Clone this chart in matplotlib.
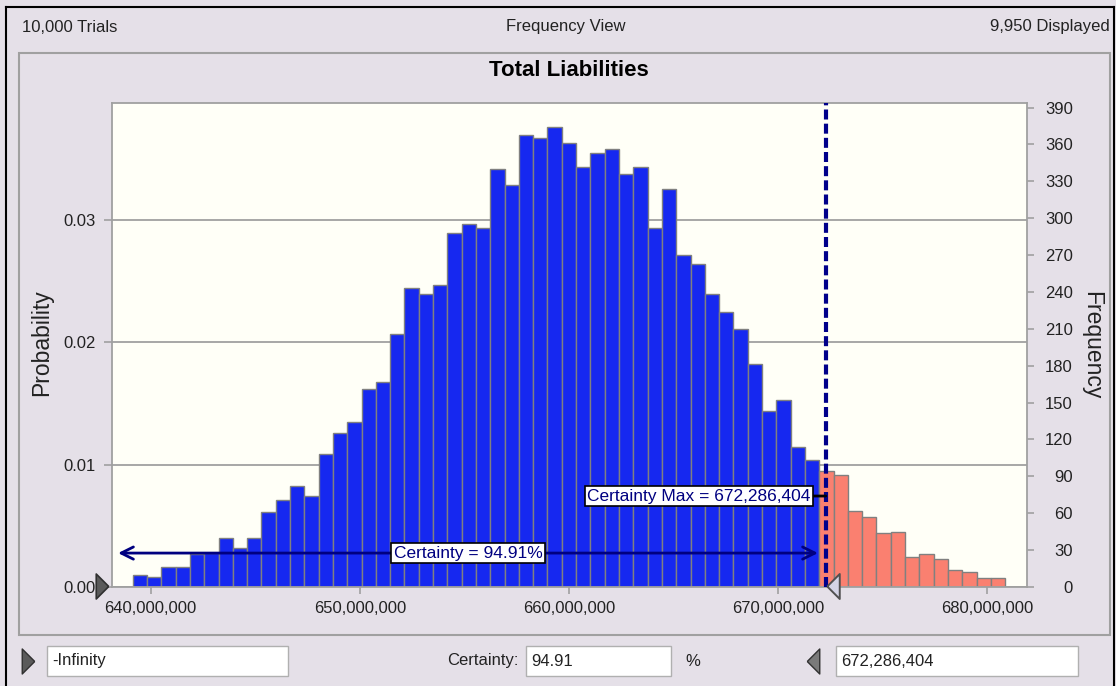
"""
=========================================================
Total Liabilities - Frequency View (Crystal Ball style)
=========================================================
"""

import matplotlib
matplotlib.use("Agg")
import matplotlib.pyplot as plt
from matplotlib.patches import Rectangle
from matplotlib.lines import Line2D
from matplotlib.transforms import offset_copy
from matplotlib.ticker import FuncFormatter

plt.rcParams["font.family"] = ["Liberation Sans", "DejaVu Sans"]

# ==========================================================
# Data
# ==========================================================

trials = 10000
displayed = 9950
certainty = 94.91
cert_max = 672286404

first_bin = 639.14e6
bin_width = 0.684e6

counts = [
    10, 8, 16, 16, 27, 28, 40, 32, 40, 61,
    71, 82, 74, 108, 125, 134, 161, 167, 206, 243,
    238, 246, 288, 295, 292, 340, 327, 368, 365, 374,
    361, 342, 353, 356, 336, 342, 292, 324, 270, 263,
    238, 224, 210, 181, 143, 152, 114, 103, 94, 91,
    62, 57, 44, 45, 24, 27, 23, 14, 12, 7,
    7,
]

x_ticks = [640e6, 650e6, 660e6, 670e6, 680e6]
prob_ticks = [0.00, 0.01, 0.02, 0.03]
freq_ticks = list(range(0, 391, 30))

# ==========================================================
# Colours / helpers
# ==========================================================

BG = "#E5E0E8"
PLOT_BG = "#FFFFF7"
BLUE = "#1628F0"
SALMON = "#FA8070"
NAVY = "#00008B"
GRID = "#A0A0A0"
TXT = "#222222"

W, H = 1116, 686


def fx(px):
    return px / W


def fy(py):
    return 1 - py / H


fig = plt.figure(figsize=(W / 100, H / 100), dpi=100, facecolor=BG)

# ==========================================================
# Frames and header
# ==========================================================

fig.add_artist(Line2D([fx(6), fx(1114)], [fy(7), fy(7)], color="black", lw=1.5))
fig.add_artist(Line2D([fx(6), fx(6)], [fy(7), 0], color="black", lw=1.5))
fig.add_artist(Line2D([fx(1114), fx(1114)], [fy(7), 0], color="black", lw=1.5))

fig.add_artist(Rectangle(
    (fx(19), fy(635)), fx(1110) - fx(19), fy(53) - fy(635),
    transform=fig.transFigure, fill=False, edgecolor=GRID, lw=1.5
))

fig.text(fx(22), fy(27), f"{trials:,} Trials", ha="left", va="center", fontsize=12, color=TXT)
fig.text(fx(566), fy(27), "Frequency View", ha="center", va="center", fontsize=12, color=TXT)
fig.text(fx(1110), fy(27), f"{displayed:,} Displayed", ha="right", va="center", fontsize=12, color=TXT)

fig.text(fx(569), fy(70), "Total Liabilities", ha="center", va="center",
         fontsize=16, fontweight="bold", color="black")

# ==========================================================
# Histogram
# ==========================================================

ax = fig.add_axes([fx(112), fy(587), fx(1027) - fx(112), fy(103) - fy(587)])
ax.set_facecolor(PLOT_BG)

lefts = [first_bin + i * bin_width for i in range(len(counts))]
probs = [c / displayed for c in counts]
colors = [SALMON if (l + bin_width) > cert_max else BLUE for l in lefts]

ax.bar(lefts, probs, width=bin_width, align="edge", color=colors,
       edgecolor="#808080", linewidth=1, zorder=2)

x_left = 638.149e6
x_right = 681.908e6
y_top_count = 393.7

ax.set_xlim(x_left, x_right)
ax.set_ylim(0, y_top_count / displayed)

ax.set_axisbelow(True)
ax.yaxis.grid(True, color=GRID, lw=1.3)
ax.set_yticks(prob_ticks)
ax.yaxis.set_major_formatter(FuncFormatter(lambda v, p: f"{v:.2f}"))
ax.set_xticks(x_ticks)
ax.xaxis.set_major_formatter(FuncFormatter(lambda v, p: f"{v:,.0f}"))

ax.tick_params(axis="both", colors=GRID, labelcolor=TXT, labelsize=12)
ax.tick_params(axis="y", length=6, width=1.2, pad=6)
ax.tick_params(axis="x", length=5, width=1.2, pad=5)
for s in ax.spines.values():
    s.set_color(GRID)
    s.set_linewidth(1.3)

ax2 = ax.twinx()
ax2.set_ylim(0, y_top_count)
ax2.set_yticks(freq_ticks)
ax2.tick_params(axis="y", colors=GRID, labelcolor=TXT, labelsize=12,
                length=5, width=1.2, pad=28)
for lab in ax2.get_yticklabels():
    lab.set_horizontalalignment("right")
for s in ax2.spines.values():
    s.set_visible(False)

fig.text(fx(42), fy(343), "Probability", rotation=90, ha="center", va="center",
         fontsize=16.5, color=TXT)
fig.text(fx(1092), fy(345), "Frequency", rotation=270, ha="center", va="center",
         fontsize=16.5, color=TXT)

# ==========================================================
# Certainty markers
# ==========================================================

ax.axvline(cert_max, color=NAVY, lw=3, ls=(0, (2.4, 1)), zorder=4)

arrow_y = 27.6 / displayed
ax.annotate("", xy=(671.91e6, arrow_y), xytext=(638.44e6, arrow_y),
            arrowprops=dict(arrowstyle="<->", color="#000080", lw=2,
                            mutation_scale=22, shrinkA=0, shrinkB=0),
            zorder=5)
ax.text(655.17e6, arrow_y, f"Certainty = {certainty:.2f}%", ha="center", va="center",
        fontsize=12.5, color="#000080", zorder=6,
        bbox=dict(boxstyle="square,pad=0.15", fc="white", ec="black", lw=1.2))

ax.annotate(f"Certainty Max = {cert_max:,}", xy=(cert_max, 74 / displayed),
            xytext=(-11, 0), textcoords="offset points", ha="right", va="center",
            fontsize=12.5, color="#000080", zorder=6,
            bbox=dict(boxstyle="square,pad=0.15", fc="white", ec="black", lw=1.2),
            arrowprops=dict(arrowstyle="-", color="black", lw=2, shrinkA=0, shrinkB=0))

# slider triangles, drawn on the twin axes so they sit on top
tri_right = [(0.5, 0), (-0.5, 1), (-0.5, -1), (0.5, 0)]
tri_left = [(-0.5, 0), (0.5, 1), (0.5, -1), (-0.5, 0)]

ax2.plot([0], [0], marker=tri_right, ms=18, mfc="#5A5A5A", mec="#303030", mew=1.2,
         transform=offset_copy(ax2.get_yaxis_transform(), fig=fig, x=-10, y=1, units="dots"),
         clip_on=False, zorder=10)
ax2.plot([cert_max], [0], marker=tri_left, ms=18, mfc="#D4D4E6", mec="#505050", mew=1.4,
         transform=offset_copy(ax2.transData, fig=fig, x=7, y=1, units="dots"),
         clip_on=False, zorder=10)

# ==========================================================
# Bottom controls
# ==========================================================

row_y = 661

fig.add_artist(Line2D([fx(28)], [fy(row_y)], marker=tri_right, ms=18,
                      mfc="#5A5A5A", mec="#303030", mew=1))
fig.add_artist(Line2D([fx(813)], [fy(row_y)], marker=tri_left, ms=18,
                      mfc="#7A7A7A", mec="#303030", mew=1))

for x0, x1 in [(47, 288), (526, 671), (836, 1078)]:
    fig.add_artist(Rectangle(
        (fx(x0), fy(676)), fx(x1) - fx(x0), fy(646) - fy(676),
        transform=fig.transFigure, facecolor="white", edgecolor="#B0B0B0", lw=1
    ))

fig.text(fx(52), fy(row_y), "-Infinity", ha="left", va="center", fontsize=12, color=TXT)
fig.text(fx(519), fy(row_y), "Certainty:", ha="right", va="center", fontsize=12, color=TXT)
fig.text(fx(531), fy(row_y), f"{certainty:.2f}", ha="left", va="center", fontsize=12, color=TXT)
fig.text(fx(685), fy(row_y), "%", ha="left", va="center", fontsize=12, color=TXT)
fig.text(fx(841), fy(row_y), f"{cert_max:,}", ha="left", va="center", fontsize=12, color=TXT)

fig.savefig("out.png", dpi=100, facecolor=BG)
